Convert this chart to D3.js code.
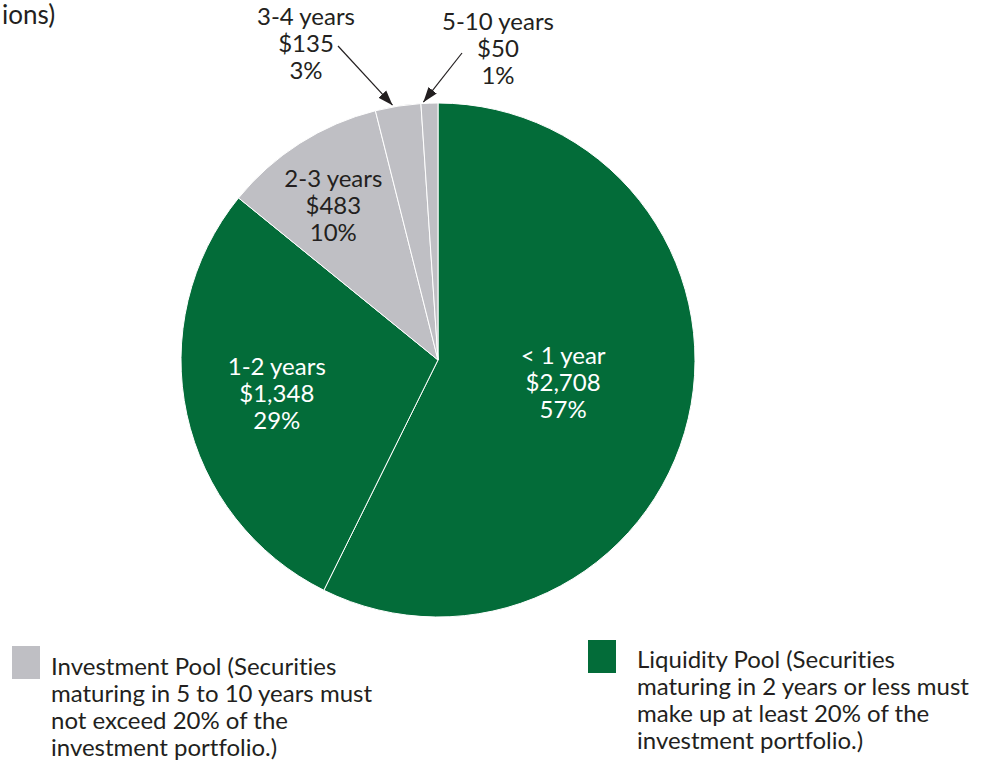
<!DOCTYPE html>
<html>
<head>
<meta charset="utf-8">
<title>Investment portfolio by maturity</title>
<script src="https://d3js.org/d3.v7.min.js"></script>
<style>
  body { margin: 0; background: #fff; }
  text { font-family: Lato, "Open Sans", sans-serif; fill: #231f20; font-variant-ligatures: none; }
</style>
</head>
<body>
<script>
// data (millions of dollars)
const categories = ["< 1 year", "1-2 years", "2-3 years", "3-4 years", "5-10 years"];
const amounts = [2708, 1348, 483, 135, 50];
const amountLabels = ["$2,708", "$1,348", "$483", "$135", "$50"];
const pctLabels = ["57%", "29%", "10%", "3%", "1%"];
const pools = ["liquidity", "liquidity", "investment", "investment", "investment"];
const legendItems = [
  {pool: "investment", lines: ["Investment Pool (Securities", "maturing in 5 to 10 years must", "not exceed 20% of the", "investment portfolio.)"]},
  {pool: "liquidity", lines: ["Liquidity  Pool (Securities", "maturing in 2 years or less must", "make up at least 20% of the", "investment portfolio.)"]}
];

const W = 985, H = 763;
const cx = 438, cy = 360, R = 257;
const color = d3.scaleOrdinal().domain(["liquidity", "investment"]).range(["#036c39", "#bfbfc4"]);

const svg = d3.select("body").append("svg").attr("width", W).attr("height", H);

// only the tail of the title shows in the source
svg.append("text").attr("x", 2).attr("y", 24)
   .style("font-size", "26px").text("ions)");

const data = categories.map((c, i) => ({cat: c, value: amounts[i], amt: amountLabels[i], pct: pctLabels[i], pool: pools[i]}));
const pie = d3.pie().value(d => d.value).sort(null);
const arcs = pie(data);
const arc = d3.arc().innerRadius(0).outerRadius(R);

const g = svg.append("g").attr("transform", `translate(${cx},${cy})`);
g.selectAll("path").data(arcs).enter().append("path")
  .attr("d", arc)
  .attr("fill", d => color(d.data.pool))
  .attr("stroke", "#fff")
  .attr("stroke-width", 1);

// inside labels: radius fraction per slice, outside ones go above with an arrow
const inside = {"< 1 year": [0.5, 0, -6], "1-2 years": [0.63, -3, 0], "2-3 years": [0.7, -8, -2]};
const outside = {"3-4 years": [306, 25], "5-10 years": [498, 30]};
const lh = 27;

arcs.forEach(a => {
  const d = a.data;
  const lines = [d.cat, d.amt, d.pct];
  const txtColor = d.pool === "liquidity" ? "#fff" : "#231f20";
  let x, y;
  if (inside[d.cat]) {
    const r = R * inside[d.cat][0];
    const c = d3.arc().innerRadius(r).outerRadius(r).centroid(a);
    x = cx + c[0] + inside[d.cat][1];
    y = cy + c[1] - lh + 8 + inside[d.cat][2];
  } else {
    x = outside[d.cat][0];
    y = outside[d.cat][1];
  }
  const t = svg.append("text").attr("text-anchor", "middle").style("font-size", "24px").style("fill", txtColor);
  lines.forEach((l, i) => t.append("tspan").attr("x", x).attr("y", y + i * lh).text(l));
});

// arrows for the thin slices
svg.append("defs").append("marker")
  .attr("id", "ah").attr("viewBox", "0 0 10 10").attr("refX", 10).attr("refY", 5)
  .attr("markerUnits", "userSpaceOnUse")
  .attr("markerWidth", 15).attr("markerHeight", 15).attr("orient", "auto")
  .append("path").attr("d", "M0,1.5 L10,5 L0,8.5 z").attr("fill", "#231f20");

const arrowFrom = {"3-4 years": [338, 46], "5-10 years": [462, 53]};
const arrowNudge = {"3-4 years": -5, "5-10 years": -6};
arcs.filter(a => arrowFrom[a.data.cat]).forEach(a => {
  const r = R + 3;
  const c = d3.arc().innerRadius(r).outerRadius(r).centroid(a);
  svg.append("line")
    .attr("x1", arrowFrom[a.data.cat][0]).attr("y1", arrowFrom[a.data.cat][1])
    .attr("x2", cx + c[0] + arrowNudge[a.data.cat]).attr("y2", cy + c[1] + 2)
    .attr("stroke", "#231f20").attr("stroke-width", 1.2)
    .attr("marker-end", "url(#ah)");
});

// legend
const legendPos = [{x: 12, y: 646, tx: 51, ty: 675}, {x: 588, y: 640, tx: 637, ty: 668}];
legendItems.forEach((item, i) => {
  const p = legendPos[i];
  svg.append("rect").attr("x", p.x).attr("y", p.y).attr("width", 28).attr("height", 33)
     .attr("fill", color(item.pool));
  const t = svg.append("text").style("font-size", "24px");
  item.lines.forEach((l, j) => t.append("tspan").attr("x", p.tx).attr("y", p.ty + j * 27).text(l));
});
</script>
</body>
</html>
